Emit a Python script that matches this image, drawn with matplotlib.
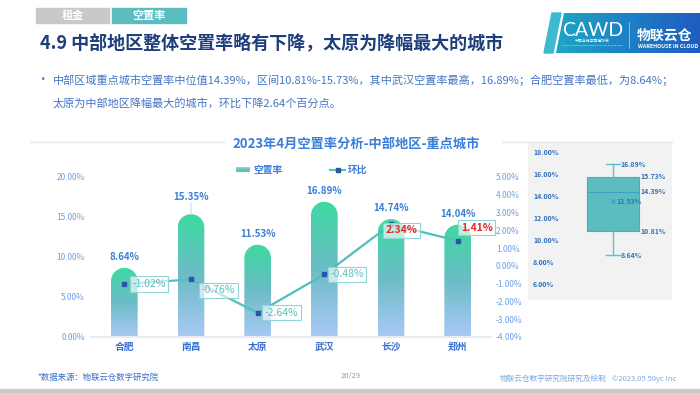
import numpy as np
import matplotlib
matplotlib.use('Agg')
import matplotlib.pyplot as plt
from matplotlib.colors import LinearSegmentedColormap
from matplotlib.path import Path
from matplotlib.patches import PathPatch, Rectangle, Polygon
from matplotlib.ticker import FuncFormatter

plt.rcParams['font.family'] = ['Noto Sans CJK SC', 'DejaVu Sans']
plt.rcParams['axes.unicode_minus'] = False

# ---------------- data ----------------
cities = ['合肥', '南昌', '太原', '武汉', '长沙', '郑州']
vacancy = [8.64, 15.35, 11.53, 16.89, 14.74, 14.04]      # 空置率 (%)
mom = [-1.02, -0.76, -2.64, -0.48, 2.34, 1.41]            # 环比 (pct points)
left_ticks = [0, 5, 10, 15, 20]
right_ticks = [-4, -3, -2, -1, 0, 1, 2, 3, 4, 5]
box_ticks = [6, 8, 10, 12, 14, 16, 18]

# ---------------- styles ----------------
bar_label_dy = [11, 17, 11, 11, 11, 11]                   # px above bar top
mom_label_off = [(8, 0), (11, -11), (7, 0), (6, 0), (-5, -6), (3, 13)]

W, H = 700, 393
fig = plt.figure(figsize=(7, 3.93), dpi=100)
fig.patch.set_facecolor('white')


def fx(px):
    return px / W


def fy(py):
    return 1 - py / H


deco = fig.add_axes([0, 0, 1, 1], zorder=0)
deco.axis('off')

blue_txt = '#4575c4'

# tabs
deco.add_patch(Rectangle((36, 8), 73, 15, color='#c9c9c9'))
deco.text(72.5, 15.5, '租金', color='white', fontsize=8, fontweight='bold', ha='center', va='center')
deco.add_patch(Rectangle((112, 8), 74, 15, color='#5bbdbf'))
deco.text(149, 15.5, '空置率', color='white', fontsize=8, fontweight='bold', ha='center', va='center')

# slide title
deco.text(40, 43, '4.9 中部地区整体空置率略有下降，太原为降幅最大的城市', fontsize=13,
          fontweight='bold', color='#1f3e7c', va='center')

# logo
stripe = Polygon([(552, 13), (561, 13), (553, 53), (544, 53)], closed=True, color='#3bbad0')
deco.add_patch(stripe)
main_poly = Polygon([(564, 13), (700, 13), (700, 53), (556, 53)], closed=True, fc='none', ec='none')
deco.add_patch(main_poly)
logo_cmap = LinearSegmentedColormap.from_list('logo', ['#1ea6c4', '#1d80c6', '#1f5cbf'])
im = deco.imshow(np.linspace(0, 1, 256).reshape(1, -1), extent=[556, 700, 53, 13], cmap=logo_cmap,
                 aspect='auto', zorder=1)
im.set_clip_path(main_poly)
deco.text(562, 30, 'CAWD', color='white', fontsize=14, family=['Lato', 'DejaVu Sans'],
          fontweight='normal', va='center', zorder=3)
deco.text(592, 42, '中国仓储与配送协会', fontsize=2.8, color='white', ha='center', va='center', zorder=3)
deco.text(592, 45.5, 'CHINA ASSOCIATION OF WAREHOUSES AND DISTRIBUTION', fontsize=1.6, color='white',
          ha='center', va='center', zorder=3)
deco.plot([629, 629], [22, 48], color='white', lw=0.5, alpha=0.7, zorder=3)
deco.text(637, 36, '物联云仓', color='white', fontsize=10, fontweight='bold', va='center', zorder=3)
deco.text(638, 47, 'WAREHOUSE IN CLOUD', fontsize=3.8, color='white', fontweight='bold', va='center', zorder=3)

# bullet text
deco.text(36, 80, '•', color=blue_txt, fontsize=9, va='center')
deco.text(53, 80, '中部区域重点城市空置率中位值14.39%，区间10.81%-15.73%，其中武汉空置率最高，16.89%；合肥空置率最低，为8.64%；',
          color=blue_txt, fontsize=8, va='center')
deco.text(53, 103, '太原为中部地区降幅最大的城市，环比下降2.64个百分点。', color=blue_txt, fontsize=8, va='center')

# chart title & rule lines
deco.plot([30, 224], [142, 142], color='#e6e6e6', lw=1)
deco.plot([502, 672], [142, 142], color='#e6e6e6', lw=1)
deco.text(356, 143.5, '2023年4月空置率分析-中部地区-重点城市', ha='center', va='center',
          color='#3b7dd8', fontsize=9.5, fontweight='bold')

# legend (manual)
bar_cmap = LinearSegmentedColormap.from_list('bar', ['#a9c9f6', '#6cbcc6', '#3dd9a1'])
im2 = deco.imshow(np.linspace(0, 1, 64).reshape(-1, 1), extent=[236, 250, 172, 167], cmap=bar_cmap,
                  aspect='auto', origin='upper')
deco.text(253, 169.5, '空置率', color='#3a7fd8', fontsize=7, fontweight='bold', va='center')
deco.plot([330, 345], [169.5, 169.5], color='#4fbfbf', lw=1.5)
deco.plot([337.5], [169.5], marker='s', ms=3, color='#2a55a5')
deco.text(348, 169.5, '环比', color='#3a7fd8', fontsize=7, fontweight='bold', va='center')

# footer
deco.text(37, 377, '*数据来源：物联云仓数字研究院', color='#3a6fc4', fontsize=6, style='italic', va='center')
deco.text(341, 376, '20/29', color='#9a9a9a', fontsize=5.5, va='center')
deco.text(500, 379, '物联云仓数字研究院研究及绘制', color='#7fa8e0', fontsize=5.5, va='center')
deco.text(612, 379, '©2023.05 50yc Inc', color='#7fa8e0', fontsize=5.5, va='center')
deco.add_patch(Rectangle((0, 389), 700, 4, color='#c8c9c8'))

deco.set_xlim(0, W)
deco.set_ylim(H, 0)

# ---------------- main chart ----------------
ax = fig.add_axes([fx(91), fy(337), 400 / W, 160 / H], zorder=2)
ax.set_facecolor('none')
x = np.arange(len(cities))
ax.set_xlim(-0.5, len(cities) - 0.5)
ax.set_ylim(0, 20)
bars = ax.bar(x, vacancy, width=0.4, color='none', edgecolor='none', zorder=1)

p0 = ax.transData.transform((0, 0))
px_x = ax.transData.transform((1, 0))[0] - p0[0]
px_y = ax.transData.transform((0, 1))[1] - p0[1]

grad = np.linspace(0, 1, 256).reshape(-1, 1)
for rect in bars:
    x0, w, h = rect.get_x(), rect.get_width(), rect.get_height()
    ry = (w / 2) * px_x / px_y
    th = np.linspace(np.pi, 0, 40)
    xs = x0 + w / 2 + (w / 2) * np.cos(th)
    ys = h - ry + ry * np.sin(th)
    verts = [(x0, 0)] + list(zip(xs, ys)) + [(x0 + w, 0), (x0, 0)]
    path = Path(verts, closed=True)
    patch = PathPatch(path, facecolor='none', edgecolor='none', transform=ax.transData)
    ax.add_patch(patch)
    bim = ax.imshow(grad, extent=[x0, x0 + w, 0, h], origin='lower', aspect='auto', cmap=bar_cmap,
                    zorder=2, interpolation='bilinear')
    bim.set_clip_path(patch)

for i, v in enumerate(vacancy):
    ax.annotate(f'{v:.2f}%', (x[i], v), xytext=(0, bar_label_dy[i]), textcoords='offset pixels',
                ha='center', va='center', color='#3c7fd6', fontsize=7, fontweight='bold', zorder=4)
ax.annotate('', (x[1], vacancy[1]), xytext=(0, bar_label_dy[1] - 6), textcoords='offset pixels',
            arrowprops=dict(arrowstyle='-', color='#d3e2f5', lw=1, shrinkA=0, shrinkB=0))

ax.set_xlim(-0.5, len(cities) - 0.5)
ax.set_ylim(0, 20)
ax.set_yticks(left_ticks)
ax.yaxis.set_major_formatter(FuncFormatter(lambda v, p: f'{v:.2f}%'))
ax.set_xticks(x, cities)
ax.tick_params(axis='y', length=0, pad=4.5, labelcolor='#6d9fe6', labelsize=6)
ax.tick_params(axis='x', length=0, pad=3.5, labelcolor='#3a6fd0', labelsize=7)
for lab in ax.get_xticklabels():
    lab.set_fontweight('bold')
for s in ['top', 'left', 'right']:
    ax.spines[s].set_visible(False)
ax.spines['bottom'].set_color('#e4ecf6')
ax.spines['bottom'].set_linewidth(1.5)

ax2 = ax.twinx()
ax2.set_ylim(-4, 5)
ax2.set_yticks(right_ticks)
ax2.yaxis.set_major_formatter(FuncFormatter(lambda v, p: f'{v:.2f}%'))
ax2.tick_params(axis='y', length=0, pad=3.5, labelcolor='#6d9fe6', labelsize=6)
for s in ax2.spines.values():
    s.set_visible(False)
ax2.plot(x, mom, color='#4fbfbf', lw=1.6, marker='s', ms=3, mfc='#2a55a5', mec='#2a55a5', zorder=3)
for i, v in enumerate(mom):
    pos = v > 0
    ax2.annotate(f'{v:.2f}%', (x[i], v), xytext=mom_label_off[i], textcoords='offset pixels',
                 ha='left', va='center', fontsize=7.5,
                 color='#e8262a' if pos else '#5cbfc0', fontweight='bold' if pos else 'normal',
                 bbox=dict(boxstyle='square,pad=0.25', fc=(1, 1, 1, 0.65), ec='#8fd4d4', lw=0.8),
                 zorder=5)

# ---------------- box plot panel ----------------
bx = fig.add_axes([fx(528), fy(300), 144 / W, 157 / H], zorder=2)
bx.set_facecolor('#f2f2f2')
vals = np.array(vacancy)
q1, med, q3 = np.percentile(vals, [25, 50, 75], method='weibull')
stats = [dict(med=med, q1=q1, q3=q3, whislo=vals.min(), whishi=vals.max(), mean=vals.mean(), fliers=[])]
bx.bxp(stats, positions=[0.59], widths=0.36, showmeans=True, patch_artist=True,
       boxprops=dict(facecolor='#5bbdc0', edgecolor='#45aec6', lw=0.8),
       medianprops=dict(color='#3aa3c2', lw=0.8),
       whiskerprops=dict(color='#5bc0d4', lw=1),
       capprops=dict(color='#5bc0d4', lw=1), capwidths=0.1,
       meanprops=dict(marker='x', markeredgecolor='#3a9fd0', markersize=3, markeredgewidth=0.8))
bx.set_xlim(0, 1)
bx.set_ylim(4.55, 18.82)
bx.set_xticks([])
bx.set_yticks(box_ticks)
bx.yaxis.set_major_formatter(FuncFormatter(lambda v, p: f'{v:.2f}%'))
bx.tick_params(axis='y', length=0, pad=-3.6, labelcolor='#2f70c0', labelsize=5)
for lab in bx.get_yticklabels():
    lab.set_horizontalalignment('left')
    lab.set_fontweight('bold')
for s in bx.spines.values():
    s.set_visible(False)
tr = bx.get_yaxis_transform()
lab_kw = dict(transform=tr, color='#2f70c0', fontsize=5, fontweight='bold', va='center')
bx.text(0.64, vals.max(), f'{vals.max():.2f}%', **lab_kw)
bx.text(0.64, vals.min(), f'{vals.min():.2f}%', **lab_kw)
bx.text(0.78, q3, f'{q3:.2f}%', **lab_kw)
bx.text(0.78, med, f'{med:.2f}%', **lab_kw)
bx.text(0.78, q1, f'{q1:.2f}%', **lab_kw)
bx.text(0.615, vals.mean(), f'{vals.mean():.2f}%', **lab_kw)

fig.savefig('out.png', dpi=100, facecolor='white')
